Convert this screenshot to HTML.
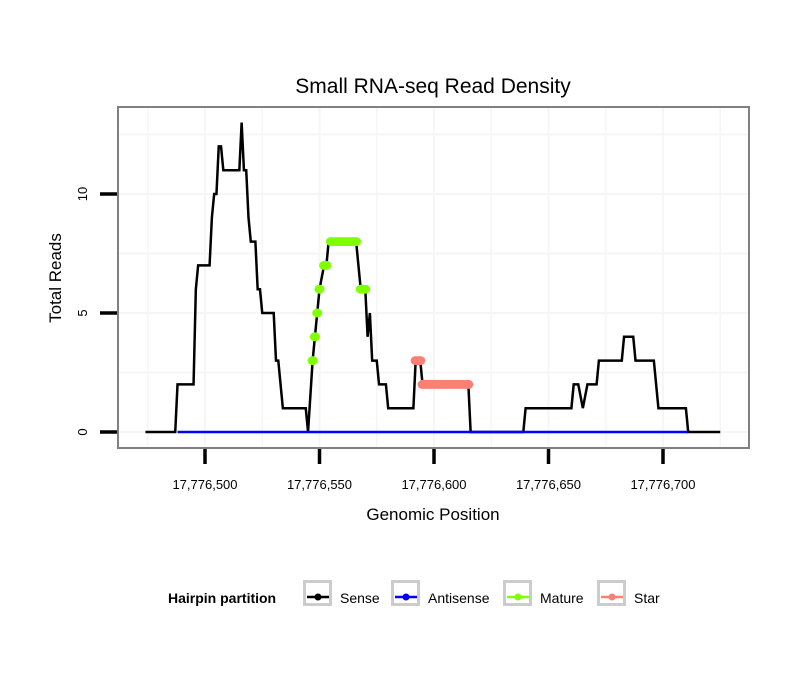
<!DOCTYPE html>
<html><head><meta charset="utf-8"><style>
body{margin:0;background:#fff;}
svg{display:block;font-family:"Liberation Sans",sans-serif;}
</style></head><body>
<svg id="chart" width="810" height="690">
<text x="433" y="93" font-size="21" text-anchor="middle">Small RNA-seq Read Density</text>
<g id="grid"></g>
<g id="marks"></g>
<rect x="118" y="107" width="631" height="341" fill="none" stroke="#808080" stroke-width="2"/>
<g id="axes"></g>
<text x="433" y="520" font-size="17" text-anchor="middle">Genomic Position</text>
<text transform="translate(61,278) rotate(-90)" font-size="17" text-anchor="middle">Total Reads</text>
<g>
<text x="168" y="603" font-size="14" font-weight="bold">Hairpin partition</text>
<g id="legend"></g>
</g>
</svg>
<script>
const senseX=[474,487,488,495,496,497,502,503,504,505,506,507,508,514,515,516,517,518,519,520,522,523,524,525,530,531,532,534,544,545,547,548,549,550,552,553,554,566,568,570,571,572,573,575,576,579,580,591,592,594,595,615,616,639,640,660,661,663,665,667,671,672,682,683,687,688,696,698,710,711,725];
const senseY=[0,0,2,2,6,7,7,9,10,10,12,12,11,11,11,13,11,11,9,8,8,6,6,5,5,3,3,1,1,0,3,4,5,6,7,7,8,8,6,6,4,5,3,3,2,2,1,1,3,3,2,2,0,0,1,1,2,2,1,2,2,3,3,4,4,3,3,1,1,0,0];
const antiX=[488,711];
const antiY=[0,0];
const matureX=[547,548,549,550,552,553,555,556,557,558,559,560,561,562,563,564,565,566,568,569,570];
const matureY=[3,4,5,6,7,7,8,8,8,8,8,8,8,8,8,8,8,8,6,6,6];
const starX=[592,593,594,595,596,597,598,599,600,601,602,603,604,605,606,607,608,609,610,611,612,613,614,615];
const starY=[3,3,3,2,2,2,2,2,2,2,2,2,2,2,2,2,2,2,2,2,2,2,2,2];
const xTicks=[17776500,17776550,17776600,17776650,17776700];
const xTickLabels=["17,776,500","17,776,550","17,776,600","17,776,650","17,776,700"];
const yTicks=[0,5,10];
const xMinor=[17776475,17776525,17776575,17776625,17776675,17776725];
const yMinor=[2.5,7.5,12.5];
const BASE=17776000;
const sx=p=>205+(p-500)*2.29;
const sy=v=>432-v*23.8;
const NS="http://www.w3.org/2000/svg";
function mk(t,a,parent){const e=document.createElementNS(NS,t);for(const k in a)e.setAttribute(k,a[k]);parent.appendChild(e);return e;}
const grid=document.getElementById('grid'),marks=document.getElementById('marks'),axes=document.getElementById('axes'),legend=document.getElementById('legend');
xMinor.forEach(p=>{const l=mk('line',{x1:sx(p-BASE),x2:sx(p-BASE),y1:108,y2:447,stroke:'#f6f6f6','stroke-width':1.5},grid);

});
xTicks.forEach(p=>{const l=mk('line',{x1:sx(p-BASE),x2:sx(p-BASE),y1:108,y2:447,stroke:'#f6f6f6','stroke-width':2},grid);

});
yMinor.concat(yTicks).forEach(v=>{const l=mk('line',{x1:119,x2:748,y1:sy(v),y2:sy(v),stroke:'#f6f6f6','stroke-width':2},grid);

});
function pts(X,Y){return X.map((x,i)=>sx(x)+','+sy(Y[i])).join(' ');}
const sl=mk('polyline',{points:pts(senseX,senseY),fill:'none',stroke:'#000','stroke-width':2.5,'stroke-linejoin':'miter'},marks);


const al=mk('polyline',{points:pts(antiX,antiY),fill:'none',stroke:'#0000ff','stroke-width':2.5},marks);


function dots(X,Y,c,name){X.forEach((x,i)=>{const d=mk('ellipse',{cx:sx(x),cy:sy(Y[i]),rx:5,ry:4.5,fill:c},marks);

});}
dots(matureX,matureY,'#7fff00','mature-point');
dots(starX,starY,'#fa8072','star-point');
xTicks.forEach((p,i)=>{const x=sx(p-BASE);const t=mk('line',{x1:x,x2:x,y1:449,y2:464,stroke:'#000','stroke-width':3.5},axes);


const tx=mk('text',{x:x,y:489,'font-size':13,'text-anchor':'middle'},axes);tx.textContent=xTickLabels[i];

});
yTicks.forEach(v=>{const y=sy(v);const t=mk('line',{x1:100,x2:117,y1:y,y2:y,stroke:'#000','stroke-width':3.5},axes);


const tx=mk('text',{x:0,y:0,'font-size':13,'text-anchor':'middle',transform:`translate(87,${y}) rotate(-90)`},axes);tx.textContent=String(v);

});
const legNames=['Sense','Antisense','Mature','Star'],legColors=['#000','#0000ff','#7fff00','#fa8072'],legBoxX=[303,391,503,597];
legNames.forEach((n,i)=>{const g=mk('g',{},legend);


const bx=legBoxX[i];
mk('rect',{x:bx+1.5,y:581.5,width:26,height:23,fill:'#fff',stroke:'#cccccc','stroke-width':3},g);
mk('line',{x1:bx+4,x2:bx+26,y1:597,y2:597,stroke:legColors[i],'stroke-width':2.5},g);
mk('circle',{cx:bx+15,cy:597,r:3.5,fill:legColors[i]},g);
const t=mk('text',{x:bx+37,y:603,'font-size':14},g);t.textContent=n;});
</script>
</body></html>
